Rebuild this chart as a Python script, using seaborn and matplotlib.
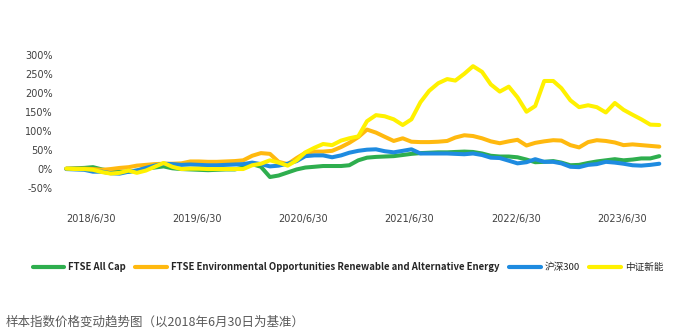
import numpy as np
import pandas as pd
import matplotlib
matplotlib.use("Agg")
import matplotlib.pyplot as plt
from matplotlib.font_manager import FontProperties
import seaborn as sns

# ---------------- data (monthly, % change vs 2018/6/30) ----------------
dates = pd.date_range("2018-06-30", periods=68, freq="ME")

ftse_all_cap = [0, 1, 2, 4, -2, -6, -8, -8, -5, 0, 3, 6, 1, -1, -2, -3, -4, -3, -2, -2,
                3, 12, 5, -22, -18, -10, -2, 3, 5, 7, 7, 7, 9, 22, 29, 31, 32, 33, 36, 39,
                41, 42, 43, 43, 44, 45, 44, 40, 34, 32, 32, 30, 24, 17, 18, 20, 16, 9, 10, 15,
                19, 22, 25, 22, 24, 27, 27, 33]

ftse_env = [0, 0, 0, -1, -3, -1, 2, 4, 8, 10, 12, 13, 13, 14, 19, 19, 18, 18, 19, 20,
            22, 34, 41, 39, 18, 12, 28, 42, 45, 45, 47, 57, 68, 83, 103, 95, 84, 73, 80, 71,
            70, 70, 71, 73, 82, 88, 86, 80, 72, 67, 72, 76, 61, 68, 72, 75, 74, 62, 56, 70,
            75, 73, 69, 62, 64, 62, 60, 58]

hs300 = [-1, -2, -3, -8, -8, -12, -13, -8, -5, 2, 8, 13, 12, 10, 11, 10, 9, 9, 10, 11,
         12, 16, 12, 6, 8, 13, 20, 33, 35, 35, 30, 35, 42, 47, 50, 51, 46, 43, 47, 51,
         40, 40, 40, 40, 39, 38, 40, 36, 29, 28, 21, 14, 17, 25, 18, 18, 14, 5, 4, 10,
         12, 18, 16, 13, 9, 8, 10, 13]

csi_newenergy = [0, -1, -1, -3, -9, -13, -11, -5, -11, -5, 5, 15, 5, -1, 0, 0, -1, -1, -1, -1,
                 -1, 9, 13, 22, 16, 8, 22, 43, 55, 65, 62, 74, 80, 85, 125, 141, 138, 130, 115, 130,
                 175, 205, 225, 236, 232, 250, 270, 255, 222, 203, 216, 188, 150, 165, 231, 231, 212, 180, 162, 167,
                 162, 148, 173, 155, 142, 130, 116, 115]

series_names = ["FTSE All Cap",
                "FTSE Environmental Opportunities Renewable and Alternative Energy",
                "沪深300", "中证新能"]
series_values = [ftse_all_cap, ftse_env, hs300, csi_newenergy]
colors = ["#2EAE4E", "#FFB90F", "#1E8BE0", "#FFF100"]

y_ticks = [-50, 0, 50, 100, 150, 200, 250, 300]
x_tick_dates = pd.to_datetime(["2018-06-30", "2019-06-30", "2020-06-30",
                               "2021-06-30", "2022-06-30", "2023-06-30"])
x_tick_labels = ["2018/6/30", "2019/6/30", "2020/6/30", "2021/6/30", "2022/6/30", "2023/6/30"]
caption = "样本指数价格变动趋势图（以2018年6月30日为基准）"

df = pd.concat([pd.DataFrame({"date": dates, "value": v, "series": n})
                for n, v in zip(series_names, series_values)], ignore_index=True)

# ---------------- plot ----------------
sns.set_theme(style="white")
plt.rcParams["font.family"] = ["DejaVu Sans", "Noto Sans CJK SC"]

fig = plt.figure(figsize=(7, 3.36), dpi=100)
ax = fig.add_axes([0.083, 0.385, 0.863, 0.452])

sns.lineplot(data=df, x="date", y="value", hue="series", hue_order=series_names,
             palette=colors, linewidth=2.9, ax=ax, legend=True)

ax.set_ylim(-100, 300)
ax.set_xlim(pd.Timestamp("2018-06-02"), pd.Timestamp("2024-02-10"))
ax.set_yticks(y_ticks)
ax.set_yticklabels([f"{t}%" for t in y_ticks])
ax.set_xticks(x_tick_dates)
ax.set_xticklabels(x_tick_labels, ha="left")
ax.tick_params(axis="both", length=0, labelsize=7, colors="#404040")
ax.tick_params(axis="y", pad=4)
ax.tick_params(axis="x", pad=5)
ax.set_xlabel("")
ax.set_ylabel("")
for s in ax.spines.values():
    s.set_visible(False)
ax.grid(False)

handles, labels = ax.get_legend_handles_labels()
ax.get_legend().remove()
leg_font = FontProperties(family=["Liberation Sans Narrow", "Noto Sans CJK SC"],
                          weight="bold", size=6.9)
leg = fig.legend(handles, labels, loc="center", bbox_to_anchor=(0.497, 0.205), ncol=4,
                 frameon=False, prop=leg_font, handlelength=3.3, handletextpad=0.4,
                 columnspacing=1.0)
for line in leg.get_lines():
    line.set_linewidth(3)
for t in leg.get_texts():
    t.set_color("#262626")
    if not t.get_text().startswith("FTSE"):
        t.set_fontweight("normal")

fig.text(0.008, 0.042, caption, fontsize=9, color="#595959", style="italic",
         family=["Noto Sans CJK SC", "DejaVu Sans"], ha="left", va="center")

fig.savefig("out.png", dpi=100, facecolor="white")
